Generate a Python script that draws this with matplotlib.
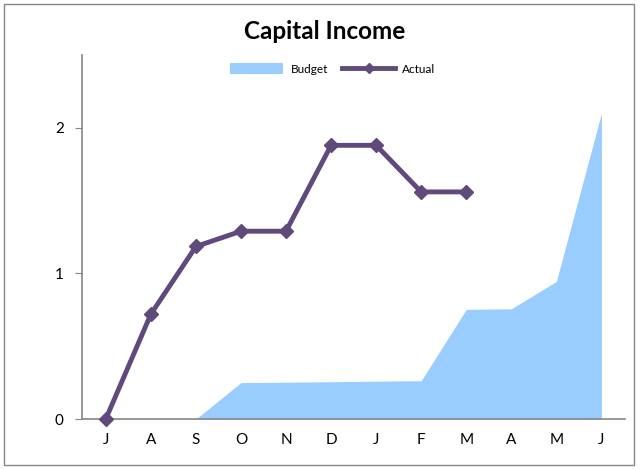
import matplotlib.pyplot as plt
from matplotlib.patches import Rectangle

plt.rcParams['font.family'] = ['Lato', 'DejaVu Sans']

months = ['J', 'A', 'S', 'O', 'N', 'D', 'J', 'F', 'M', 'A', 'M', 'J']
budget = [0, 0, 0, 0.25, 0.253, 0.256, 0.26, 0.263, 0.753, 0.757, 0.945, 2.1]
actual = [0, 0.72, 1.185, 1.29, 1.29, 1.88, 1.88, 1.56, 1.56]

fig = plt.figure(figsize=(6.4, 4.69), dpi=100)
ax = fig.add_axes([0.128, 0.1066, 0.849, 0.776])

x = list(range(len(months)))
ax.fill_between(x, budget, color='#99CCFF', linewidth=0, label='Budget')
ax.plot(range(len(actual)), actual, color='#604A7B', linewidth=3.5,
        marker='D', markersize=7, label='Actual', clip_on=False, zorder=5)

ax.set_xlim(-0.53, 11.53)
ax.set_ylim(0, 2.5)
ax.set_xticks(x)
ax.set_xticklabels(months)
ax.set_yticks([0, 1, 2])
for s in ['top', 'right']:
    ax.spines[s].set_visible(False)
for s in ['left', 'bottom']:
    ax.spines[s].set_color('#868686')
    ax.spines[s].set_linewidth(1.2)
ax.tick_params(axis='x', length=0, pad=10, labelsize=11)
ax.tick_params(axis='y', length=5, color='#868686', pad=8, labelsize=11)

# title and legend placed in figure coordinates
fig.text(0.508, 0.932, 'Capital Income', fontsize=17.5, fontweight='bold',
         ha='center', va='center')
leg = ax.legend(loc='center', bbox_to_anchor=(0.52, 0.853), bbox_transform=fig.transFigure,
                ncol=2, frameon=False, fontsize=8.5, handlelength=4.5, handleheight=1.0,
                columnspacing=1.2, handletextpad=0.6, markerscale=0.8)

# outer chart border
fig.patches.append(Rectangle((0.006, 0.008), 0.985, 0.984, transform=fig.transFigure,
                             fill=False, edgecolor='#868686', linewidth=1))

fig.savefig('out.png', dpi=100)
